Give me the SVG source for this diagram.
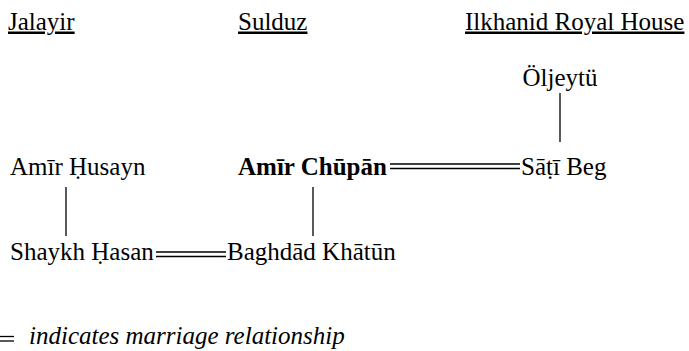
<svg xmlns="http://www.w3.org/2000/svg" width="689" height="351" viewBox="0 0 689 351" font-family="'Liberation Serif', 'Times New Roman', 'DejaVu Serif', serif" font-size="25">
<style>
.h{text-decoration:underline}
.b{font-weight:bold}
.i{font-style:italic}
.c line{stroke:#000;stroke-width:1.3}
</style>
<rect width="689" height="351" fill="#fff"/>
<g id="headers">
<text class="h" x="8" y="29.5">Jalayir</text>
<text class="h" x="238" y="29.5">Sulduz</text>
<text class="h" x="465" y="29.5">Ilkhanid Royal House</text>
</g>
<g id="oljeytu"><text x="560" y="86" text-anchor="middle">Öljeytü</text></g>
<g id="amir-husayn"><text x="10" y="175">Amīr Ḥusayn</text></g>
<g id="amir-chupan"><text class="b" x="238" y="175">Amīr Chūpān</text></g>
<g id="sati-beg"><text x="521" y="175">Sāṭī Beg</text></g>
<g id="shaykh-hasan"><text x="10" y="260">Shaykh Ḥasan</text></g>
<g id="baghdad-khatun"><text x="227" y="260">Baghdād Khātūn</text></g>
<g id="connectors" class="c">
<line x1="560" y1="93" x2="560" y2="142"/>
<line x1="66" y1="187" x2="66" y2="236"/>
<line x1="313" y1="187" x2="313" y2="236"/>
<line x1="390" y1="164" x2="520" y2="164"/>
<line x1="390" y1="168.5" x2="520" y2="168.5"/>
<line x1="156" y1="252" x2="226" y2="252"/>
<line x1="156" y1="256.5" x2="226" y2="256.5"/>
</g>
<g id="legend">
<g class="c">
<line x1="0" y1="336.5" x2="14" y2="336.5"/>
<line x1="0" y1="341" x2="14" y2="341"/>
</g>
<text class="i" x="29" y="344">indicates marriage relationship</text>
</g>
</svg>
